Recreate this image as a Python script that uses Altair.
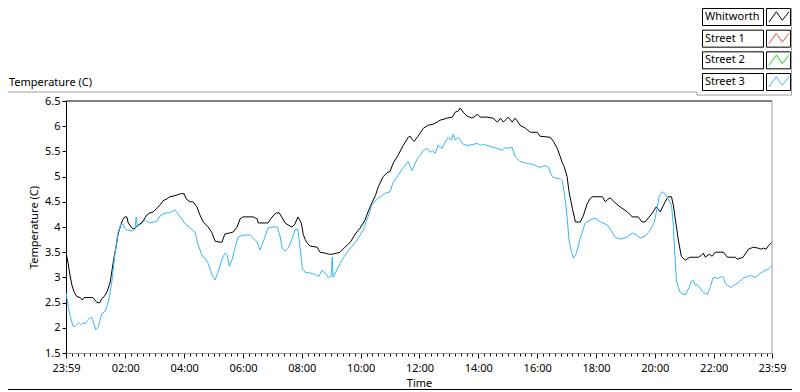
import altair as alt
import pandas as pd

# ---------------- data ----------------
# time stamps: minutes after midnight (-1 = 23:59 of the previous day)
whit_min = [-1, 3, 7, 11, 15, 21, 28, 32, 36, 44, 54, 58, 62, 68, 72, 77, 83, 89, 93, 97,
            101, 105, 111, 115, 119, 123, 126, 132, 136, 140, 144, 150, 156, 164, 170, 177, 185, 191, 197, 205,
            211, 221, 232, 240, 244, 252, 258, 266, 272, 279, 289, 297, 303, 311, 317, 323, 332, 340, 348, 354,
            360, 381, 389, 391, 411, 415, 421, 428, 434, 440, 446, 452, 460, 466, 472, 479, 483, 487, 491, 497,
            511, 517, 528, 534, 542, 550, 558, 568, 579, 589, 599, 609, 615, 623, 630, 636, 646, 654, 660, 666,
            676, 687, 697, 701, 705, 709, 717, 728, 738, 748, 756, 762, 770, 776, 787, 793, 799, 803, 809, 817,
            827, 834, 838, 844, 858, 870, 879, 885, 891, 897, 901, 909, 915, 921, 925, 936, 946, 960, 966, 987,
            993, 1001, 1007, 1011, 1015, 1021, 1025, 1032, 1038, 1048, 1054, 1062, 1068, 1072, 1093, 1099, 1103, 1109, 1115, 1119,
            1129, 1144, 1154, 1166, 1174, 1180, 1187, 1195, 1203, 1207, 1211, 1217, 1221, 1227, 1234, 1238, 1242, 1248, 1254, 1262,
            1268, 1272, 1289, 1295, 1299, 1303, 1311, 1317, 1323, 1340, 1348, 1364, 1368, 1380, 1391, 1401, 1411, 1417, 1421, 1427,
            1431, 1439]
whit_temp = [3.50, 3.30, 3.05, 2.85, 2.72, 2.62, 2.60, 2.55, 2.60, 2.60, 2.60, 2.55, 2.50, 2.50, 2.58, 2.62, 2.72, 2.90, 3.15, 3.40,
             3.60, 3.85, 4.05, 4.15, 4.20, 4.20, 4.08, 4.00, 3.96, 3.98, 4.02, 4.06, 4.12, 4.24, 4.28, 4.30, 4.38, 4.44, 4.52, 4.56,
             4.60, 4.62, 4.66, 4.66, 4.56, 4.50, 4.50, 4.40, 4.24, 4.10, 4.00, 3.88, 3.72, 3.70, 3.70, 3.86, 3.88, 3.90, 4.00, 4.16,
             4.20, 4.20, 4.16, 4.08, 4.08, 4.14, 4.22, 4.28, 4.28, 4.18, 4.08, 4.04, 4.00, 4.06, 4.20, 4.08, 3.85, 3.75, 3.68, 3.62,
             3.60, 3.50, 3.48, 3.46, 3.46, 3.48, 3.50, 3.60, 3.70, 3.86, 3.98, 4.14, 4.30, 4.48, 4.62, 4.80, 5.00, 5.08, 5.10, 5.26,
             5.42, 5.62, 5.78, 5.80, 5.74, 5.70, 5.80, 5.96, 6.02, 6.04, 6.08, 6.12, 6.14, 6.16, 6.18, 6.28, 6.30, 6.36, 6.28, 6.20,
             6.16, 6.20, 6.24, 6.18, 6.18, 6.16, 6.08, 6.16, 6.08, 6.14, 6.18, 6.08, 6.16, 6.08, 6.02, 5.96, 5.88, 5.88, 5.80, 5.78,
             5.70, 5.56, 5.40, 5.28, 5.20, 5.00, 4.70, 4.36, 4.10, 4.10, 4.22, 4.46, 4.56, 4.60, 4.60, 4.50, 4.54, 4.58, 4.52, 4.48,
             4.40, 4.30, 4.20, 4.20, 4.10, 4.10, 4.18, 4.28, 4.40, 4.35, 4.30, 4.42, 4.50, 4.60, 4.60, 4.42, 4.14, 3.74, 3.42, 3.34,
             3.38, 3.40, 3.40, 3.44, 3.48, 3.40, 3.46, 3.42, 3.50, 3.50, 3.40, 3.40, 3.36, 3.40, 3.56, 3.60, 3.58, 3.56, 3.58, 3.56,
             3.62, 3.70]

st3_min = [-1, 3, 7, 13, 17, 21, 26, 30, 34, 38, 42, 48, 52, 56, 60, 64, 68, 72, 79, 85,
           89, 93, 99, 105, 111, 115, 119, 123, 134, 140, 142, 144, 150, 160, 166, 170, 179, 185, 191, 197,
           205, 211, 217, 221, 226, 232, 238, 242, 252, 262, 268, 277, 283, 289, 297, 303, 309, 317, 323, 328,
           332, 338, 344, 350, 360, 375, 381, 389, 395, 401, 411, 419, 430, 436, 440, 446, 452, 460, 466, 472,
           477, 481, 487, 501, 511, 515, 521, 528, 534, 540, 542, 544, 554, 564, 579, 593, 605, 615, 623, 634,
           644, 650, 660, 666, 676, 687, 697, 701, 705, 711, 717, 721, 728, 736, 742, 746, 752, 758, 766, 772,
           779, 785, 789, 793, 799, 805, 809, 819, 830, 838, 844, 850, 864, 879, 889, 895, 899, 909, 915, 925,
           940, 952, 966, 976, 983, 987, 991, 1001, 1007, 1011, 1015, 1019, 1021, 1025, 1030, 1034, 1040, 1048, 1058, 1068,
           1078, 1089, 1103, 1113, 1119, 1129, 1144, 1154, 1164, 1170, 1180, 1191, 1199, 1205, 1209, 1215, 1221, 1227, 1234, 1238,
           1240, 1244, 1248, 1252, 1262, 1270, 1274, 1278, 1283, 1287, 1297, 1307, 1313, 1319, 1329, 1336, 1340, 1344, 1354, 1368,
           1380, 1395, 1405, 1415, 1425, 1431, 1436, 1439]
st3_temp = [2.70, 2.45, 2.25, 2.04, 2.02, 2.06, 2.10, 2.06, 2.10, 2.08, 2.14, 2.20, 2.20, 2.08, 1.96, 2.00, 2.14, 2.28, 2.33, 2.50,
            2.70, 2.95, 3.48, 3.88, 4.06, 4.06, 3.98, 3.94, 3.92, 3.96, 4.20, 4.04, 4.04, 4.14, 4.10, 4.08, 4.10, 4.12, 4.22, 4.26,
            4.28, 4.28, 4.32, 4.34, 4.28, 4.20, 4.12, 4.06, 3.98, 3.90, 3.66, 3.42, 3.38, 3.28, 3.05, 2.95, 3.10, 3.36, 3.48, 3.44,
            3.22, 3.36, 3.60, 3.80, 3.84, 3.84, 3.78, 3.70, 3.54, 3.70, 3.98, 4.00, 4.00, 3.80, 3.58, 3.52, 3.58, 3.76, 3.94, 3.96,
            3.54, 3.18, 3.10, 3.08, 3.04, 3.02, 3.14, 3.08, 3.00, 3.02, 3.40, 3.00, 3.20, 3.38, 3.58, 3.74, 3.94, 4.20, 4.44, 4.56,
            4.62, 4.67, 4.70, 4.88, 5.02, 5.18, 5.30, 5.20, 5.12, 5.26, 5.38, 5.42, 5.52, 5.56, 5.48, 5.52, 5.46, 5.62, 5.56, 5.68,
            5.78, 5.72, 5.84, 5.72, 5.78, 5.70, 5.64, 5.62, 5.64, 5.66, 5.62, 5.64, 5.60, 5.56, 5.52, 5.58, 5.56, 5.58, 5.40, 5.30,
            5.26, 5.24, 5.18, 5.22, 5.18, 5.08, 5.00, 4.96, 4.96, 4.92, 4.70, 4.40, 4.20, 3.74, 3.50, 3.38, 3.48, 3.78, 4.08, 4.14,
            4.18, 4.10, 4.04, 3.90, 3.80, 3.76, 3.80, 3.88, 3.84, 3.78, 3.82, 3.94, 4.10, 4.38, 4.62, 4.70, 4.66, 4.56, 4.44, 4.00,
            3.60, 2.95, 2.80, 2.70, 2.65, 2.80, 2.92, 2.94, 2.84, 2.86, 2.72, 2.66, 2.80, 3.00, 2.98, 3.02, 3.00, 2.88, 2.80, 2.88,
            2.98, 3.04, 3.00, 3.08, 3.14, 3.16, 3.20, 3.24]

series_names = ["Whitworth", "Street 1", "Street 2", "Street 3"]
series_colors = ["#000000", "#F04848", "#1ED21E", "#3AB6F2"]
y_tick_values = [1.5, 2.0, 2.5, 3.0, 3.5, 4.0, 4.5, 5.0, 5.5, 6.0, 6.5]
chart_title = "Temperature (C)"
x_title = "Time"
y_title = "Temperature (C)"

# ---------------- layout / style ----------------
FONT = "Noto Sans"
FS = 11
W, H = 706, 252

day = pd.Timestamp("2024-01-02 00:00:00")


def to_time(mins):
    return [day + pd.Timedelta(minutes=m) for m in mins]


def dt(m):
    t = day + pd.Timedelta(minutes=m)
    return alt.DateTime(year=t.year, month=t.month, date=t.day, hours=t.hour, minutes=t.minute)


df = pd.concat([
    pd.DataFrame({"time": to_time(whit_min), "temp": whit_temp, "series": "Whitworth"}),
    pd.DataFrame({"time": to_time(st3_min), "temp": st3_temp, "series": "Street 3"}),
], ignore_index=True)

tick_minutes = [-1] + list(range(12, 1440, 12)) + [1439]
major = "(minutes(datum.value) == 59 || (minutes(datum.value) == 0 && hours(datum.value) % 2 == 0))"

color_scale = alt.Scale(domain=series_names, range=series_colors)

x_axis = alt.Axis(
    values=[dt(m) for m in tick_minutes],
    labelExpr=f"{major} ? timeFormat(datum.value, '%H:%M') : ''",
    tickSize={"condition": {"test": major, "value": 5}, "value": 3},
    tickColor="black", domainColor="#9a9a9a", labelFlush=False, labelOverlap=False,
    labelPadding=4, grid=False, title=x_title, titlePadding=4,
)
y_axis = alt.Axis(
    values=y_tick_values, format="~g", tickSize=4, tickColor="black", domainColor="black",
    labelPadding=2, grid=False, title=y_title, titlePadding=5,
)

lines = alt.Chart(df).mark_line(strokeWidth=1, clip=True).encode(
    x=alt.X("time:T", scale=alt.Scale(domain=[dt(-1), dt(1439)], nice=False), axis=x_axis),
    y=alt.Y("temp:Q", scale=alt.Scale(domain=[1.5, 6.5], nice=False, zero=False), axis=y_axis),
    color=alt.Color("series:N", scale=color_scale, legend=None),
    detail="series:N",
)

one = pd.DataFrame({"k": [0]})


def rule(color, **enc):
    return alt.Chart(one).mark_rule(color=color, strokeWidth=1).encode(**{k: alt.value(v) for k, v in enc.items()})


frame = [
    rule("black", x=0, x2=W, y=0),            # plot top
    rule("#9a9a9a", x=W, y=0, y2=H),          # plot right
    rule("#a0a0a0", x=-66, x2=631, y=-9),     # panel top
    rule("#a0a0a0", x=631, y=-9, y2=-6),
    rule("#a0a0a0", x=631, x2=732, y=-6),     # legend panel bottom
    rule("#a0a0a0", x=725.5, y=-101, y2=-6),  # legend panel right
    rule("black", x=-66, x2=732, y=288.5),    # outer bottom
]

title_layer = alt.Chart(pd.DataFrame({"t": [chart_title]})).mark_text(
    align="left", baseline="alphabetic", font=FONT, fontSize=FS, color="black"
).encode(text="t:N", x=alt.value(-57), y=alt.value(-15))

legend_df = pd.DataFrame({"name": series_names})
ly = alt.Y("name:N", scale=alt.Scale(type="band", domain=series_names, range=[-92.5, -10.5],
                                      paddingInner=0.215, paddingOuter=0), axis=None)
leg_text_box = alt.Chart(legend_df).mark_rect(fill="white", stroke="black", strokeWidth=1).encode(
    x=alt.value(636.5), x2=alt.value(697.5), y=ly)
leg_icon_box = alt.Chart(legend_df).mark_rect(fill="white", stroke="black", strokeWidth=1).encode(
    x=alt.value(700.5), x2=alt.value(724.5), y=ly)
leg_text = alt.Chart(legend_df).mark_text(align="left", baseline="middle", font=FONT, fontSize=FS, color="black").encode(
    x=alt.value(639), y=ly, text="name:N")
leg_glyph = alt.Chart(legend_df).mark_point(
    shape="M-1,0.5L-0.27,-0.52L0.33,0.32L1,-0.52", filled=False, size=400, strokeWidth=1, opacity=1
).encode(x=alt.value(713), y=ly, color=alt.Color("name:N", scale=color_scale, legend=None))

chart = alt.layer(
    lines, *frame, title_layer, leg_text_box, leg_icon_box, leg_text, leg_glyph
).resolve_scale(y="independent").properties(
    width=W, height=H,
    autosize=alt.AutoSizeParams(type="none"),
    padding={"left": 58, "top": 93, "right": 20, "bottom": 39},
    background="white",
).configure_view(stroke=None).configure_axis(
    labelFont=FONT, titleFont=FONT, labelFontSize=FS, titleFontSize=FS,
    titleFontWeight="normal", labelColor="black", titleColor="black",
)

chart.save("out.html", embed_options={"renderer": "svg", "actions": False})
